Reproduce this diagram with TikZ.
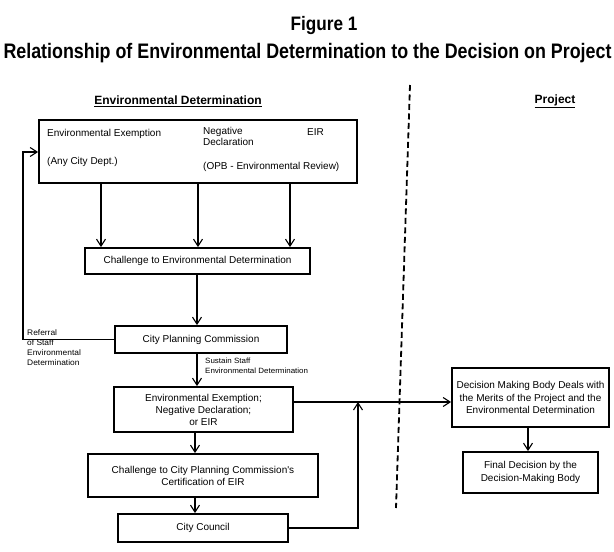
\documentclass[tikz,border=0pt]{standalone}
\usepackage{fontspec}
\setmainfont{Liberation Sans}
\newfontfamily\figfont{Liberation Sans}[FakeStretch=0.88]
\newfontfamily\titlefont{Liberation Sans}[FakeStretch=0.85]
\newfontfamily\bodyfont{Liberation Sans}
\newfontfamily\smallfont{Liberation Sans}[FakeStretch=1.05]
\usetikzlibrary{arrows.meta,calc}
\begin{document}
\begin{tikzpicture}[x=1pt,y=-1pt,
  box/.style={draw,line width=1.8pt,inner sep=0pt,anchor=center},
  txt/.style={font=\bodyfont\fontsize{10}{12}\selectfont,inner sep=0pt,align=center},
  lbl/.style={inner sep=0pt,anchor=north west,align=left},
  arr/.style={line width=1.3pt,-{Straight Barb[length=7pt,width=9pt,line width=1.1pt]}},
  hdr/.style={font=\bodyfont\bfseries\fontsize{12}{14}\selectfont,inner sep=0pt}]
\useasboundingbox (0,0) rectangle (614,552);
% titles
\node[font=\figfont\bfseries\fontsize{19.5}{22}\selectfont,inner sep=0pt,anchor=base] (t1) at (324,30) {Figure 1};
\node[font=\titlefont\bfseries\fontsize{21}{24}\selectfont,inner sep=0pt,anchor=base] (t2) at (307.5,58) {Relationship of Environmental Determination to the Decision on Project};
\node[hdr] (h1) at (178,101) {\underline{Environmental Determination}};
\node[hdr] (h2) at (555,101) {\underline{Project}};
% dashed divider
\coordinate (dtop) at (410,85);
\coordinate (dbot) at (396,508);
\draw[line width=1.8pt,dash pattern=on 6pt off 3.5pt] (dtop) -- (dbot);
% boxes
\node[box,minimum width=318pt,minimum height=63pt] (top) at (198,151.5) {};
\node[txt,anchor=west] (tee) at (47,134) {Environmental Exemption};
\node[txt,anchor=west] (tany) at (47,162) {(Any City Dept.)};
\node[txt,lbl,font=\bodyfont\fontsize{10}{11}\selectfont] (tneg) at (203,127) {Negative\\Declaration};
\node[txt,anchor=west] (teir) at (307,132) {EIR};
\node[txt,anchor=west] (topb) at (203,167) {(OPB - Environmental Review)};
\node[box,minimum width=225pt,minimum height=26pt] (ch1) at (197.5,261) {};
\node[txt] (tch1) at (ch1) {Challenge to Environmental Determination};
\node[box,minimum width=172pt,minimum height=27pt] (cpc) at (201,339.5) {};
\node[txt] (tcpc) at (cpc) {City Planning Commission};
\node[box,minimum width=179pt,minimum height=45pt] (ee) at (203.5,409.5) {};
\node[txt] (tee2) at (ee) {Environmental Exemption;\\Negative Declaration;\\or EIR};
\node[box,minimum width=230pt,minimum height=43pt] (ch2) at (203,475.5) {};
\node[txt] (tch2) at (ch2) {Challenge to City Planning Commission's\\Certification of EIR};
\node[box,minimum width=170pt,minimum height=28pt] (cc) at (203,528) {};
\node[txt] (tcc) at (cc) {City Council};
\node[box,minimum width=157pt,minimum height=59pt] (dm) at (530.5,397.5) {};
\node[txt,font=\bodyfont\fontsize{10}{12.5}\selectfont] (tdm) at (dm) {Decision Making Body Deals with\\the Merits of the Project and the\\Environmental Determination};
\node[box,minimum width=135pt,minimum height=41pt] (fd) at (530.5,472.5) {};
\node[txt,font=\bodyfont\fontsize{10}{13}\selectfont] (tfd) at (fd) {Final Decision by the\\Decision-Making Body};
% small labels
\node[lbl,font=\smallfont\fontsize{8}{10}\selectfont] (lref) at (27,329) {Referral\\of Staff\\Environmental\\Determination};
\node[lbl,font=\smallfont\fontsize{7.6}{10}\selectfont] (lsus) at (205,358) {Sustain Staff\\Environmental Determination};
% connectors
\coordinate (a1) at (101,0);
\coordinate (a2) at (198,0);
\coordinate (a3) at (290,0);
\draw[arr] (a1 |- top.south) -- (a1 |- ch1.north);
\draw[arr] (a2 |- top.south) -- (a2 |- ch1.north);
\draw[arr] (a3 |- top.south) -- (a3 |- ch1.north);
\coordinate (b1) at (197,0);
\draw[arr] (b1 |- ch1.south) -- (b1 |- cpc.north);
\draw[arr] (b1 |- cpc.south) -- (b1 |- ee.north);
\coordinate (fb) at (23,152);
\draw[arr] (cpc.west) -| (fb) -- (fb -| top.west);
\coordinate (b2) at (195,0);
\draw[arr] (b2 |- ee.south) -- (b2 |- ch2.north);
\draw[arr] (b2 |- ch2.south) -- (b2 |- cc.north);
\coordinate (jn) at (358,402);
\draw[arr] (cc.east) -| (jn);
\draw[arr] (ee.east |- jn) -- (dm.west |- jn);
\coordinate (b3) at (528,0);
\draw[arr] (b3 |- dm.south) -- (b3 |- fd.north);
\end{tikzpicture}
\end{document}
